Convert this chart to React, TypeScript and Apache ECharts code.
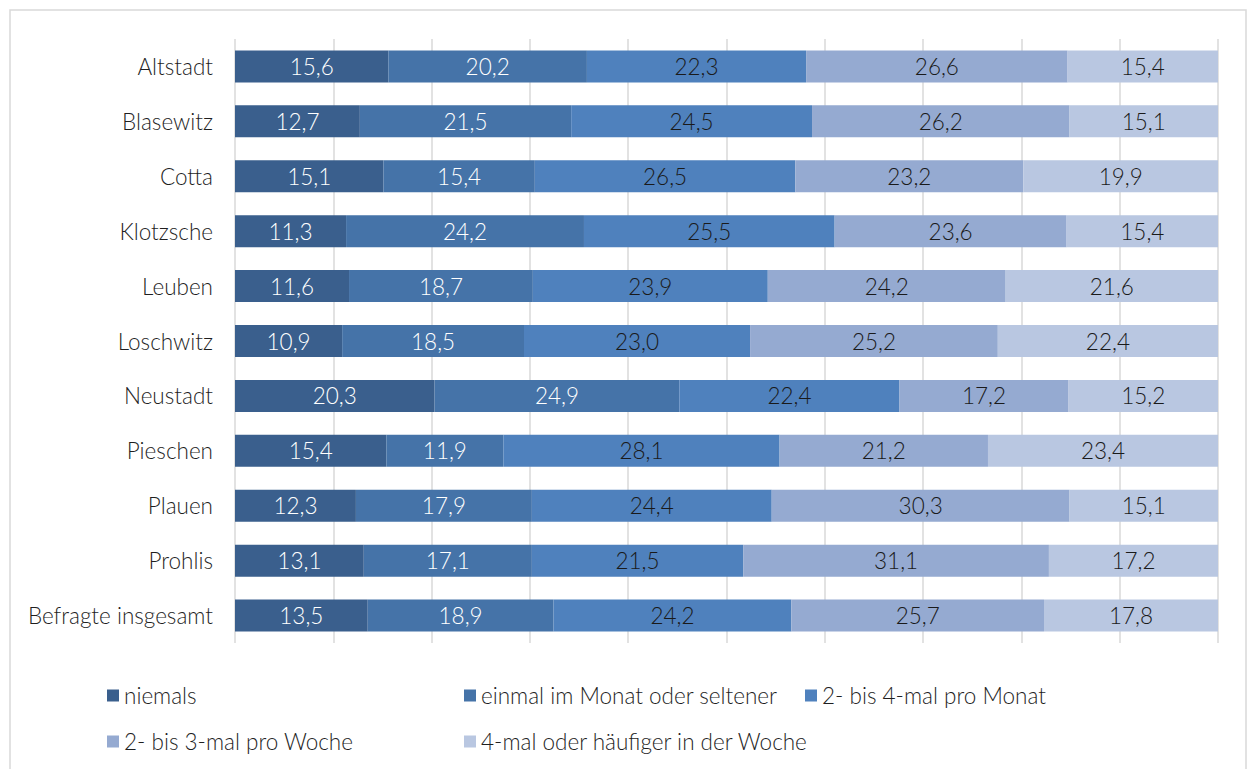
import React, { useEffect, useRef } from "react";
import * as echarts from "echarts";

const categories = [
  "Altstadt",
  "Blasewitz",
  "Cotta",
  "Klotzsche",
  "Leuben",
  "Loschwitz",
  "Neustadt",
  "Pieschen",
  "Plauen",
  "Prohlis",
  "Befragte insgesamt",
];

const seriesNames = [
  "niemals",
  "einmal im Monat oder seltener",
  "2- bis 4-mal pro Monat",
  "2- bis 3-mal pro Woche",
  "4-mal oder häufiger in der Woche",
];

const niemals = [15.6, 12.7, 15.1, 11.3, 11.6, 10.9, 20.3, 15.4, 12.3, 13.1, 13.5];
const einmalMonat = [20.2, 21.5, 15.4, 24.2, 18.7, 18.5, 24.9, 11.9, 17.9, 17.1, 18.9];
const zweiBisVierMonat = [22.3, 24.5, 26.5, 25.5, 23.9, 23.0, 22.4, 28.1, 24.4, 21.5, 24.2];
const zweiBisDreiWoche = [26.6, 26.2, 23.2, 23.6, 24.2, 25.2, 17.2, 21.2, 30.3, 31.1, 25.7];
const vierMalWoche = [15.4, 15.1, 19.9, 15.4, 21.6, 22.4, 15.2, 23.4, 15.1, 17.2, 17.8];

const seriesValues = [niemals, einmalMonat, zweiBisVierMonat, zweiBisDreiWoche, vierMalWoche];
const colors = ["#3a5f8d", "#4573a8", "#4f81bd", "#95aad1", "#b9c7e1"];
const labelColors = ["#ffffff", "#ffffff", "#1a1a1a", "#1a1a1a", "#1a1a1a"];

const FONT = "Lato, 'Open Sans', sans-serif";
const WEIGHT = 300;
const SIZE = 22.5;

const legendPos = [
  { left: 107, top: 684 },
  { left: 464, top: 684 },
  { left: 805, top: 684 },
  { left: 107, top: 730 },
  { left: 464, top: 730 },
];

export default function App() {
  const ref = useRef<HTMLDivElement>(null);

  useEffect(() => {
    document.body.style.margin = "0";
    if (!ref.current) return;
    const chart = echarts.init(ref.current, null, { renderer: "svg" });
    chart.setOption({
      animation: false,
      backgroundColor: "#ffffff",
      textStyle: { fontFamily: FONT },
      grid: { left: 235, right: 29, top: 39, bottom: 126, containLabel: false },
      xAxis: {
        type: "value",
        min: 0,
        max: 100,
        interval: 10,
        axisLabel: { show: false },
        axisLine: { show: false },
        axisTick: { show: false },
        splitLine: { show: true, lineStyle: { color: "#d9d9d9", width: 1.5 } },
      },
      yAxis: {
        type: "category",
        data: categories,
        inverse: true,
        axisLine: { show: false },
        axisTick: { show: false },
        axisLabel: {
          fontFamily: FONT,
          fontSize: SIZE,
          fontWeight: WEIGHT,
          color: "#1f1f1f",
          margin: 22,
        },
      },
      legend: seriesNames.map((n, i) => ({
        data: [n],
        left: legendPos[i].left,
        top: legendPos[i].top,
        padding: 0,
        icon: "rect",
        itemWidth: 12,
        itemHeight: 12,
        textStyle: { fontFamily: FONT, fontSize: SIZE, fontWeight: WEIGHT, color: "#1f1f1f" },
        selectedMode: false,
      })),
      graphic: [
        {
          type: "rect",
          shape: { x: 10, y: 10, width: 1236, height: 800 },
          style: { fill: "none", stroke: "#d9d9d9", lineWidth: 1.5 },
          silent: true,
        },
      ],
      series: seriesNames.map((n, i) => ({
        name: n,
        type: "bar",
        stack: "total",
        data: seriesValues[i],
        barWidth: 32,
        itemStyle: { color: colors[i] },
        label: {
          show: true,
          position: "inside",
          fontFamily: FONT,
          fontSize: SIZE,
          fontWeight: WEIGHT,
          color: labelColors[i],
          formatter: (p: any) => p.value.toFixed(1).replace(".", ","),
        },
      })),
    });
    return () => chart.dispose();
  }, []);

  return <div ref={ref} style={{ width: 1247, height: 769 }} />;
}
